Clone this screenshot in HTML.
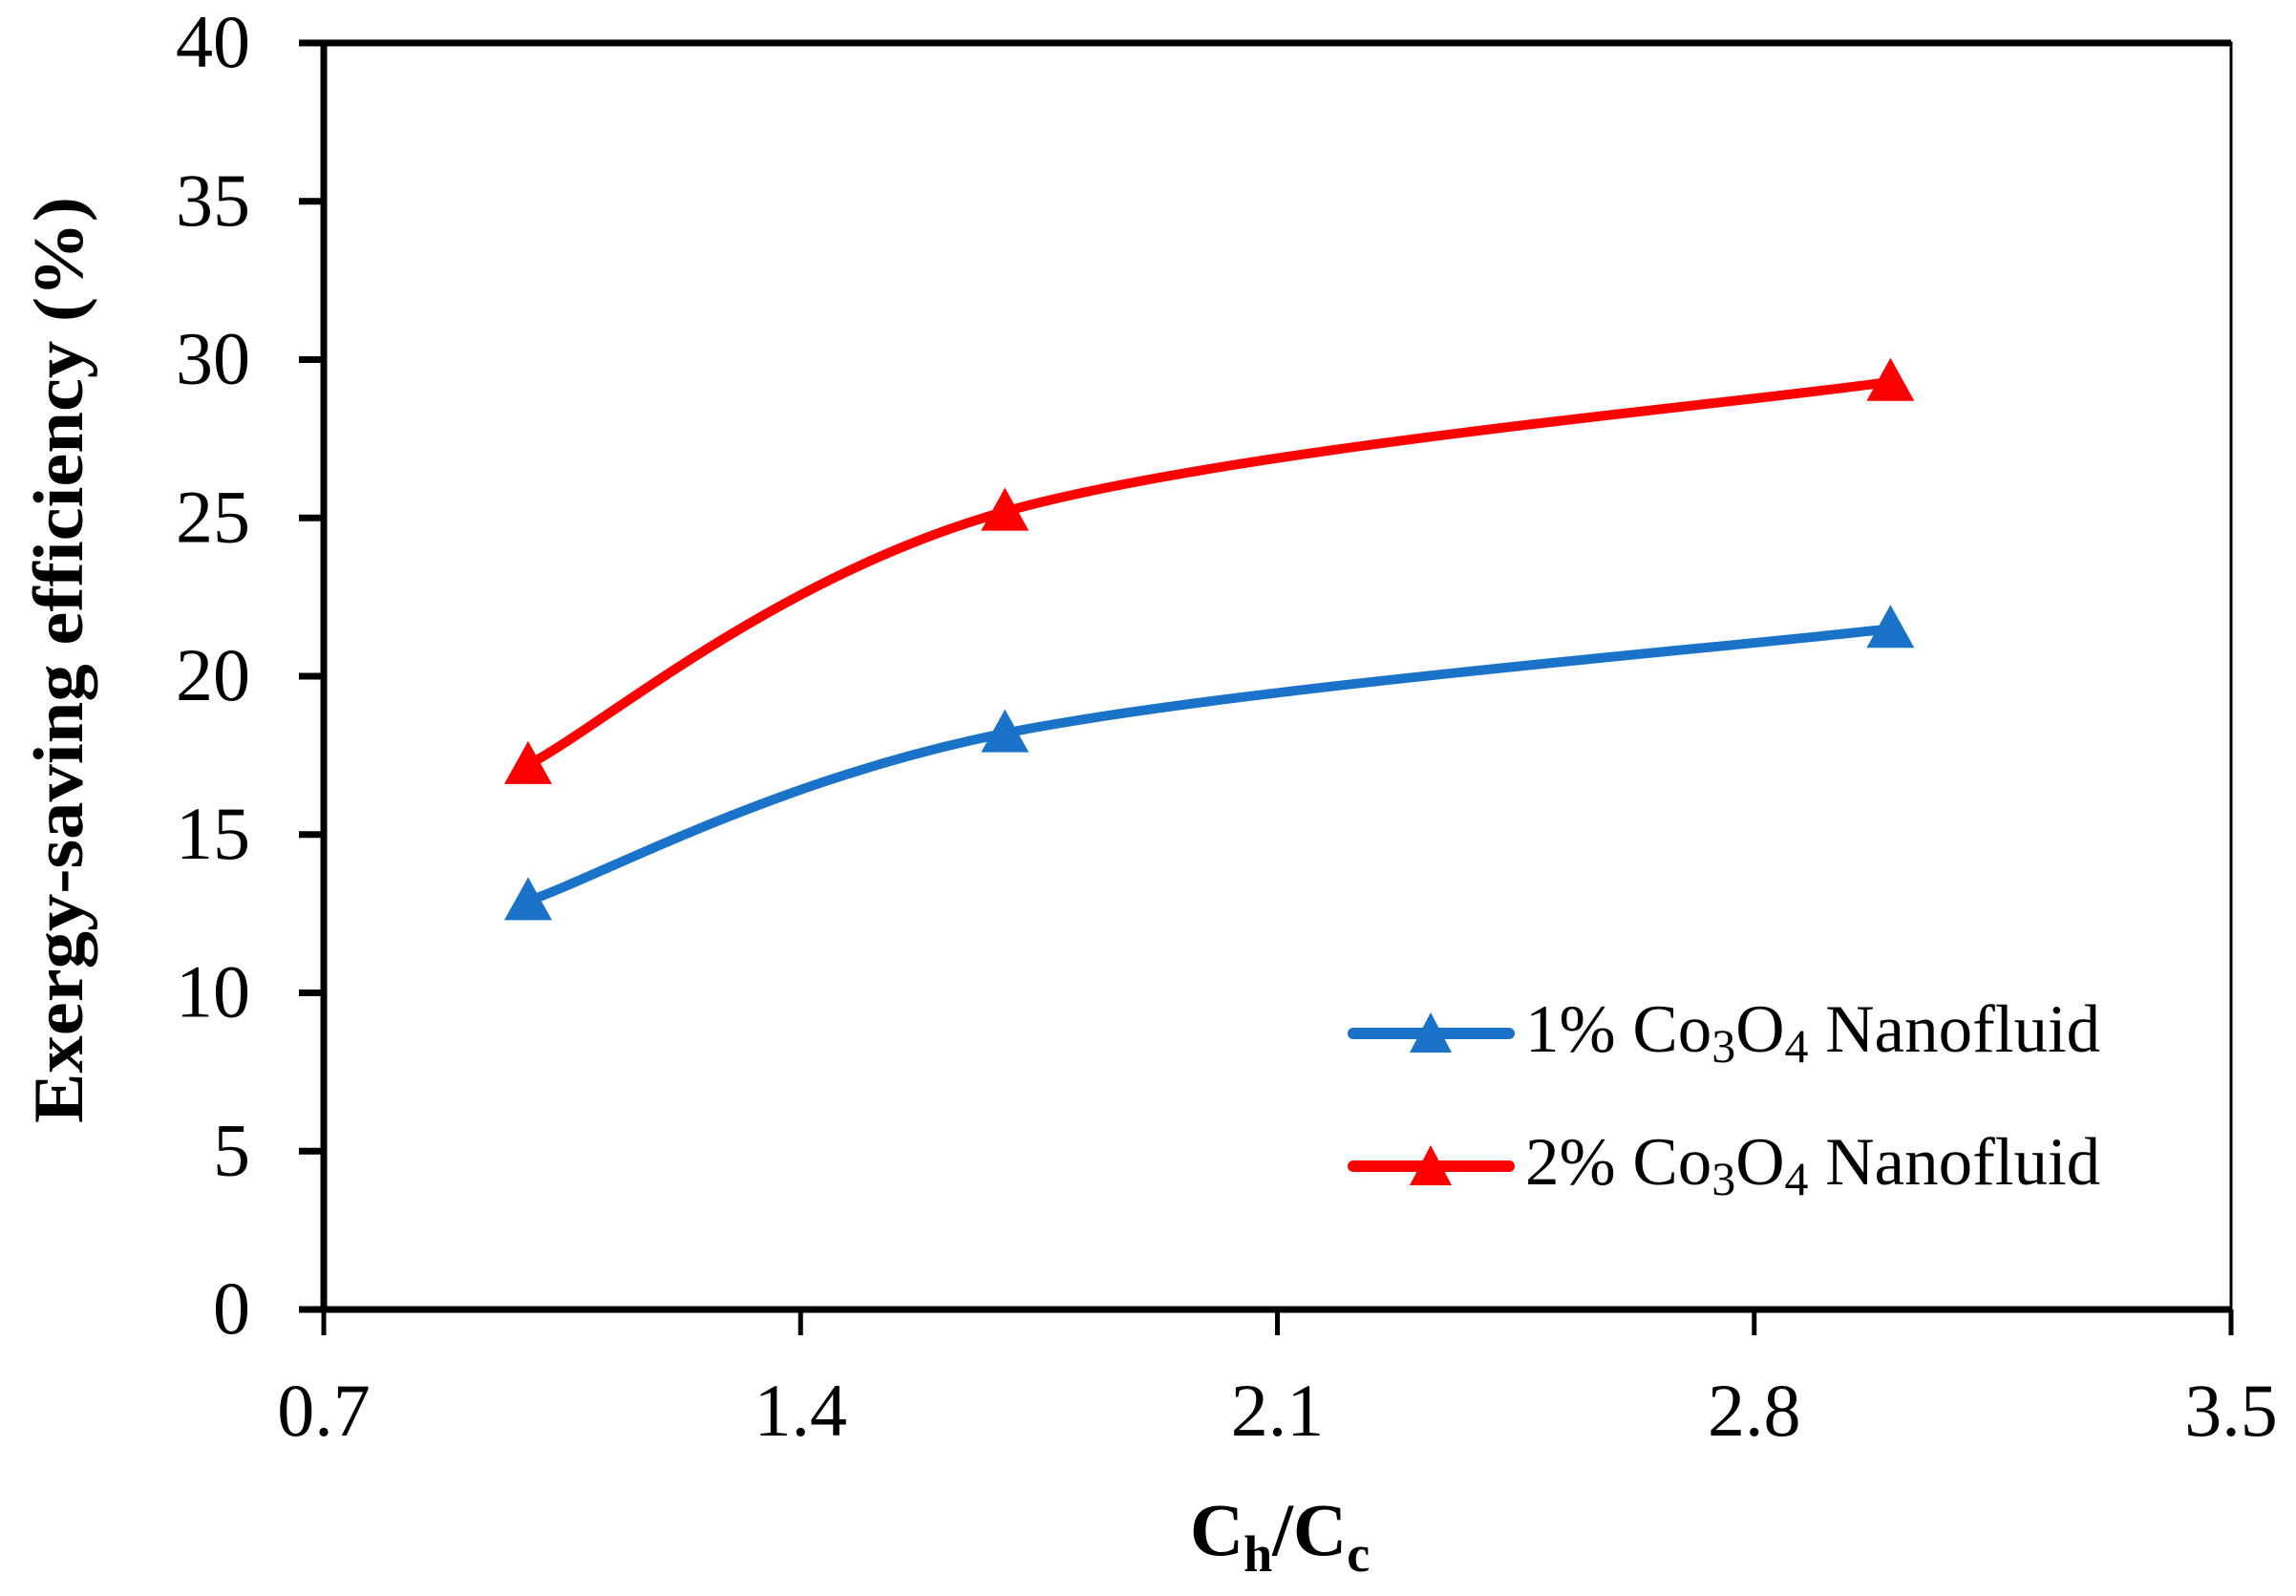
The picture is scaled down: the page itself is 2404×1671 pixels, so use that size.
<!DOCTYPE html>
<html><head><meta charset="utf-8"><style>
html,body{margin:0;padding:0;background:#fff;}
svg{display:block;font-family:"Liberation Serif",serif;}
</style></head><body>
<svg id="chart" width="2404" height="1671" viewBox="0 0 2404 1671">
<g id="axes"></g>
<g id="series"></g>
<text x="62" y="691" transform="rotate(-90 62 691)" text-anchor="middle" dominant-baseline="central" font-size="74" font-weight="bold" textLength="970" lengthAdjust="spacingAndGlyphs">Exergy-saving efficiency (%)</text>
<text x="1340" y="1628" text-anchor="middle" font-size="78" font-weight="bold">C<tspan font-size="54" dy="17">h</tspan><tspan dy="-17">/C</tspan><tspan font-size="54" dy="17">c</tspan></text>
<g id="legend">
 <g>
  <line x1="1417" y1="1082" x2="1580" y2="1082" stroke="#1a73c8" stroke-width="12" stroke-linecap="round"/>
  <polygon points="1498,1060 1520,1102 1476,1102" fill="#1a73c8"/>
  <text x="1597" y="1101" font-size="71">1% Co<tspan font-size="50" dy="11">3</tspan><tspan dy="-11">O</tspan><tspan font-size="50" dy="11">4</tspan><tspan dy="-11"> Nanofluid</tspan></text>
 </g>
 <g>
  <line x1="1417" y1="1221" x2="1580" y2="1221" stroke="#ff0000" stroke-width="12" stroke-linecap="round"/>
  <polygon points="1498,1199 1520,1241 1476,1241" fill="#ff0000"/>
  <text x="1597" y="1240" font-size="71">2% Co<tspan font-size="50" dy="11">3</tspan><tspan dy="-11">O</tspan><tspan font-size="50" dy="11">4</tspan><tspan dy="-11"> Nanofluid</tspan></text>
 </g>
</g>
</svg>
<script>
const xValues = [1.0, 1.7, 3.0];
const series1 = [12.9, 18.2, 21.5];
const series2 = [17.2, 25.2, 29.3];
const xTicks = [0.7, 1.4, 2.1, 2.8, 3.5];
const yTicks = [0, 5, 10, 15, 20, 25, 30, 35, 40];

const NS = 'http://www.w3.org/2000/svg';
const X0 = 339, X1 = 2336, Y0 = 1371, Y1 = 45;
function sx(v){ return X0 + (v - 0.7) / 2.8 * (X1 - X0); }
function sy(v){ return Y0 - v / 40 * (Y0 - Y1); }
function mk(tag, attrs, parent){ const e = document.createElementNS(NS, tag); for (const k in attrs) e.setAttribute(k, attrs[k]); parent.appendChild(e); return e; }

const axes = document.getElementById('axes');
const frame = mk('rect', {x:X0, y:Y1, width:X1-X0, height:Y0-Y1, fill:'none', stroke:'#000', 'stroke-width':3}, axes);


const yAxis = mk('line', {x1:X0, y1:Y1-3, x2:X0, y2:Y0, stroke:'#000', 'stroke-width':7}, axes);


const yTop = mk('line', {x1:313, y1:Y1, x2:X1, y2:Y1, stroke:'#000', 'stroke-width':7}, axes);


const xAxis = mk('line', {x1:313, y1:Y0, x2:X1, y2:Y0, stroke:'#000', 'stroke-width':7}, axes);


yTicks.forEach(t => {
  const y = sy(t);
  const tk = mk('line', {x1:313, y1:y, x2:X0, y2:y, stroke:'#000', 'stroke-width':7}, axes);
  
  
  const lb = mk('text', {x:262, y:y+25, 'text-anchor':'end', 'font-size':78}, axes);
  lb.textContent = t;
  
  
});
xTicks.forEach(t => {
  const x = sx(t);
  const tk = mk('line', {x1:x, y1:Y0, x2:x, y2:1398, stroke:'#000', 'stroke-width':5}, axes);
  
  
  const lb = mk('text', {x:x, y:1503, 'text-anchor':'middle', 'font-size':78}, axes);
  lb.textContent = t.toFixed(1);
  
  
});

function smooth(pts){
  let d = 'M' + pts[0][0] + ',' + pts[0][1];
  for (let i = 0; i < pts.length - 1; i++) {
    const p0 = pts[i-1] || pts[i], p1 = pts[i], p2 = pts[i+1], p3 = pts[i+2] || p2;
    const t = 0.5 / 3;
    const c1 = [p1[0] + (p2[0]-p0[0])*t, p1[1] + (p2[1]-p0[1])*t];
    const c2 = [p2[0] - (p3[0]-p1[0])*t, p2[1] - (p3[1]-p1[1])*t];
    d += ' C' + c1 + ' ' + c2 + ' ' + p2;
  }
  return d;
}
const sg = document.getElementById('series');
[[series1, '#1a73c8', 'series-1pct'], [series2, '#ff0000', 'series-2pct']].forEach(([vals, col, name]) => {
  const pts = xValues.map((x, i) => [sx(x), sy(vals[i])]);
  const p = mk('path', {d:smooth(pts), fill:'none', stroke:col, 'stroke-width':10, 'stroke-linecap':'round'}, sg);
  
  
  pts.forEach(([x, y]) => {
    const m = mk('polygon', {points:`${x},${y-25} ${x+25},${y+20} ${x-25},${y+20}`, fill:col}, sg);
    
    
  });
});
</script>
</body></html>
